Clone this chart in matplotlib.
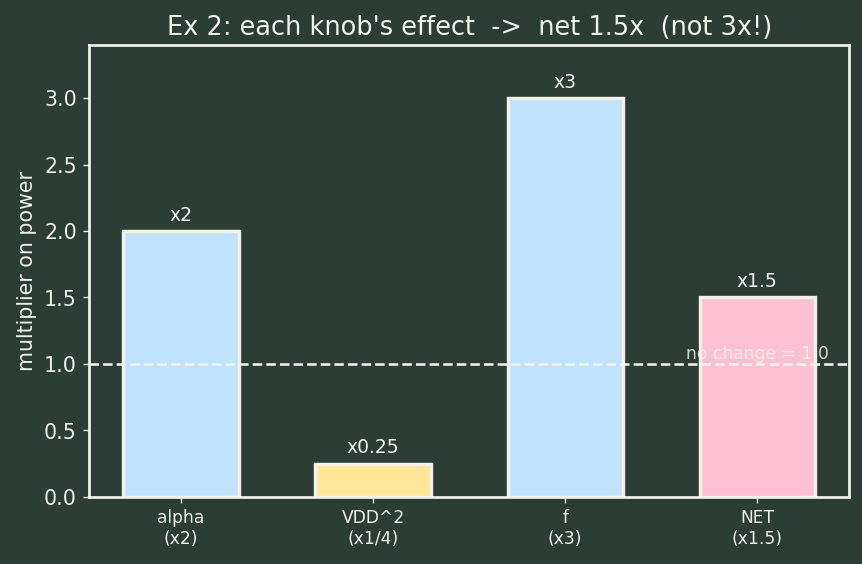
import matplotlib
matplotlib.use("Agg")
import matplotlib.pyplot as plt

labels = ["alpha\n(x2)", "VDD^2\n(x1/4)", "f\n(x3)", "NET\n(x1.5)"]
values = [2.0, 0.25, 3.0, 1.5]
value_text = ["x2", "x0.25", "x3", "x1.5"]
colors = ["#bfe3ff", "#ffe699", "#bfe3ff", "#ffc0d3"]

bg = "#2b3d34"
fg = "#f2f2ea"

fig, ax = plt.subplots(figsize=(7.0, 4.58), dpi=123.2)
fig.patch.set_facecolor(bg)
ax.set_facecolor(bg)

x = range(len(values))
ax.bar(x, values, width=0.6, color=colors, edgecolor=fg, linewidth=2)
for i, (v, t) in enumerate(zip(values, value_text)):
    ax.text(i, v + 0.05, t, ha="center", va="bottom", color=fg, fontsize=11)

ax.axhline(1.0, color=fg, linestyle="--", linewidth=1.5)
ax.text(3, 1.01, "no change = 1.0", ha="center", va="bottom", color=fg,
        fontsize=10, alpha=0.85)

ax.set_ylim(0, 3.4)
ax.set_xticks(list(x))
ax.set_xticklabels(labels, fontsize=10, color=fg)
ax.tick_params(axis="y", labelsize=12, colors=fg)
ax.tick_params(axis="x", colors=fg)
ax.set_ylabel("multiplier on power", color=fg, fontsize=12)
ax.set_title("Ex 2: each knob's effect  ->  net 1.5x  (not 3x!)", color=fg, fontsize=15)
for s in ax.spines.values():
    s.set_color(fg)
    s.set_linewidth(1.6)

plt.subplots_adjust(left=0.103, right=0.985, top=0.92, bottom=0.119)
plt.savefig("out.png", facecolor=bg)
